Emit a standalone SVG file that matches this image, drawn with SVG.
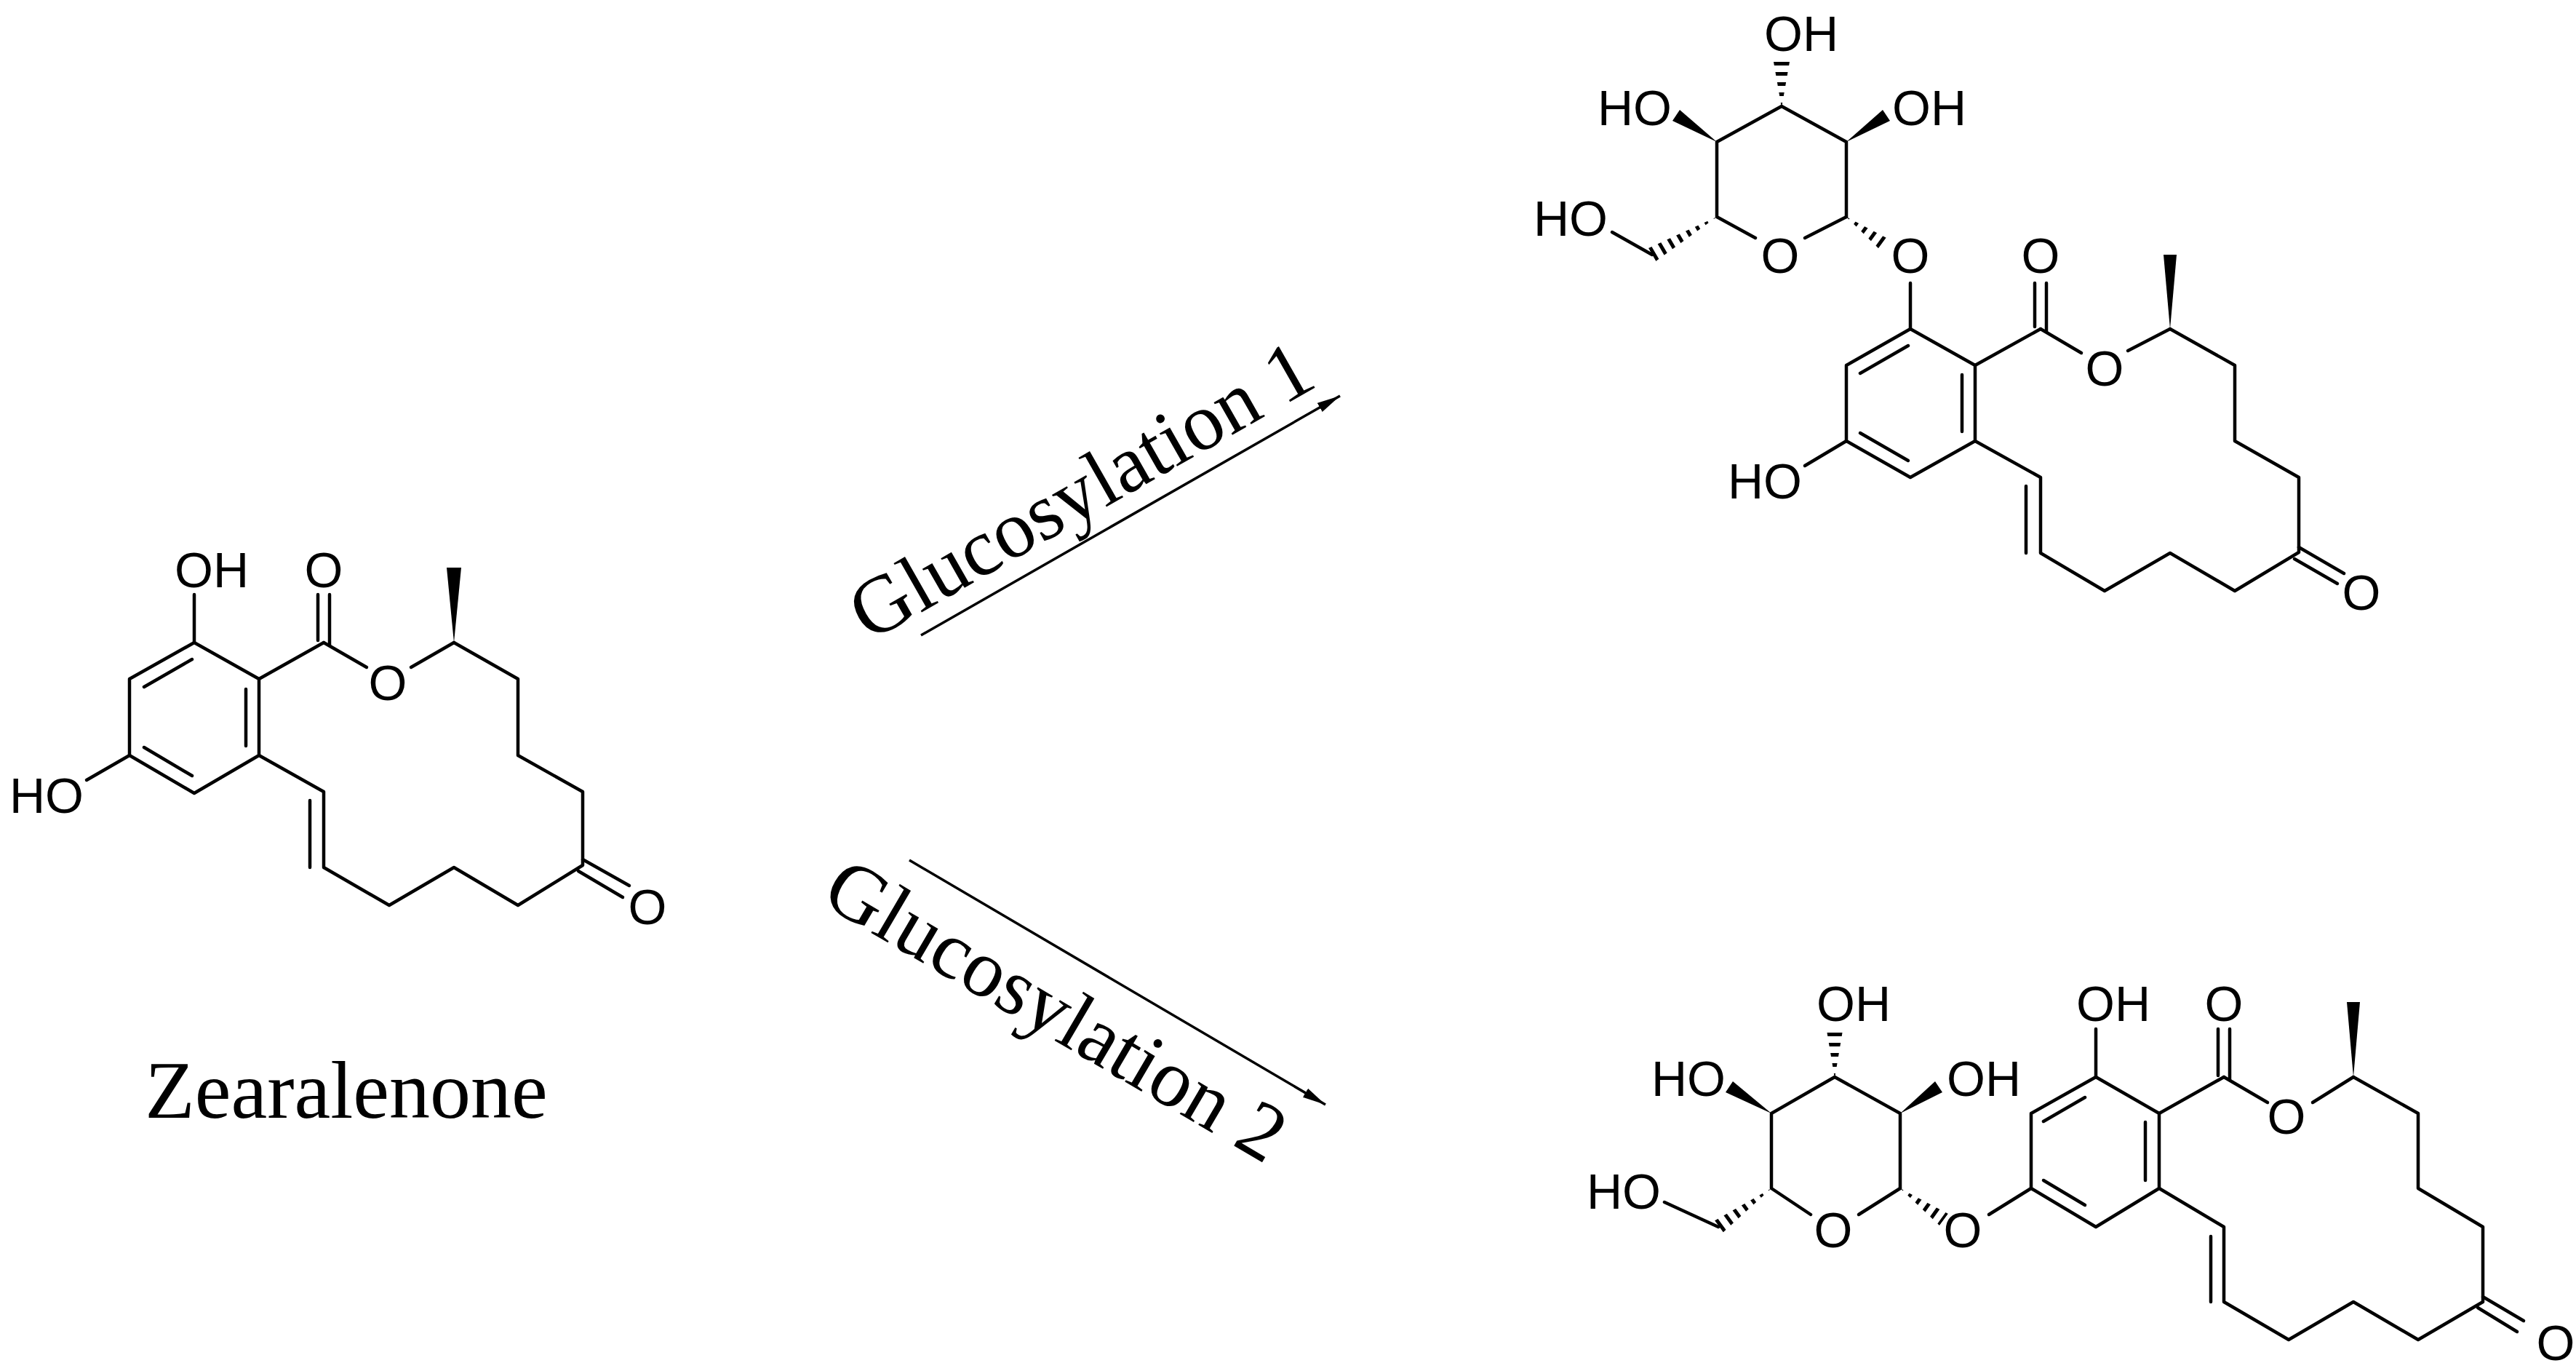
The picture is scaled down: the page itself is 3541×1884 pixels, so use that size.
<svg xmlns="http://www.w3.org/2000/svg" width="3541" height="1884" viewBox="0 0 3541 1884">
<style>
.b{stroke:#000;stroke-width:4.5;fill:none;stroke-linecap:round;stroke-linejoin:round}
.w{fill:#000;stroke:none}
.h{stroke:#000;stroke-width:24;stroke-dasharray:5 9;fill:none}
.a{font-family:"Liberation Sans",Arial,sans-serif;font-size:68px;fill:#000}
.m{text-anchor:middle}
.l{font-family:"Liberation Serif","Times New Roman",serif;font-size:112px;fill:#000;text-anchor:middle}
.ar{stroke:#000;stroke-width:3.5;fill:none}
</style>
<defs>
<marker id="ah" markerUnits="userSpaceOnUse" markerWidth="34" markerHeight="16" refX="32" refY="8" orient="auto"><path d="M0,1 L32,8 L0,15 Z" fill="#000"/></marker>
<clipPath id="h1"><polygon points="2449,148 2438,85 2460,85"/></clipPath>
<clipPath id="h2"><polygon points="2538,298 2587,346 2599,330"/></clipPath>
<clipPath id="h3"><polygon points="2360,298 2276,359 2266,341"/></clipPath>
<clipPath id="h4"><polygon points="2522,1482 2511,1416 2533,1416"/></clipPath>
<clipPath id="h5"><polygon points="2612,1633 2666,1684 2678,1668"/></clipPath>
<clipPath id="h6"><polygon points="2435,1633 2368,1694 2356,1678"/></clipPath>
</defs>
<rect width="3541" height="1884" fill="#fff"/>

<g id="zearalenone">
<line class="b" x1="267" y1="817" x2="267" y2="883"/>
<polygon class="b" points="267,883 178,933 178,1038 267,1090 356,1038 356,933"/>
<line class="b" x1="264" y1="906" x2="198" y2="944"/>
<line class="b" x1="198" y1="1027" x2="264" y2="1066"/>
<line class="b" x1="338" y1="947" x2="338" y2="1025"/>
<line class="b" x1="178" y1="1038" x2="119" y2="1072"/>
<line class="b" x1="356" y1="933" x2="445" y2="883"/>
<line class="b" x1="437" y1="817" x2="437" y2="880"/>
<line class="b" x1="453" y1="817" x2="453" y2="887"/>
<line class="b" x1="445" y1="883" x2="504" y2="917"/>
<line class="b" x1="565" y1="917" x2="624" y2="883"/>
<polygon class="w" points="624,883 614,780 634,780"/>
<polyline class="b" points="624,883 712,933 712,1038 801,1088 801,1189 712,1244 624,1192 535,1244 445,1192 445,1088 356,1038"/>
<line class="b" x1="426" y1="1100" x2="426" y2="1192"/>
<line class="b" x1="801" y1="1181" x2="865" y2="1217"/>
<line class="b" x1="795" y1="1197" x2="856" y2="1233"/>
<text class="a" x="240" y="807">OH</text>
<text class="a" x="13" y="1117">HO</text>
<text class="a m" x="445" y="807">O</text>
<text class="a m" x="533" y="962">O</text>
<text class="a m" x="890" y="1270">O</text>
</g>
<g id="label-zearalenone"><text class="l" x="476" y="1536">Zearalenone</text></g>

<g id="product1">
<polygon class="b" points="2626,452 2538,502 2538,606 2626,656 2715,606 2715,502"/>
<line class="b" x1="2623" y1="475" x2="2557" y2="513"/>
<line class="b" x1="2557" y1="595" x2="2623" y2="633"/>
<line class="b" x1="2697" y1="515" x2="2697" y2="593"/>
<line class="b" x1="2538" y1="606" x2="2481" y2="640"/>
<line class="b" x1="2626" y1="452" x2="2626" y2="389"/>
<line class="b" x1="2715" y1="502" x2="2805" y2="452"/>
<line class="b" x1="2797" y1="389" x2="2797" y2="449"/>
<line class="b" x1="2813" y1="389" x2="2813" y2="456"/>
<line class="b" x1="2805" y1="452" x2="2861" y2="485"/>
<line class="b" x1="2925" y1="482" x2="2983" y2="452"/>
<polygon class="w" points="2983,452 2974,350 2992,350"/>
<polyline class="b" points="2983,452 3072,502 3072,606 3160,656 3160,759 3072,812 2983,760 2893,812 2805,760 2805,656 2715,606"/>
<line class="b" x1="2785" y1="668" x2="2785" y2="760"/>
<line class="b" x1="3160" y1="752" x2="3222" y2="788"/>
<line class="b" x1="3154" y1="768" x2="3213" y2="802"/>
<polyline class="b" points="2538,298 2538,195 2449,146 2360,195 2360,298 2413,327"/>
<line class="b" x1="2538" y1="298" x2="2481" y2="327"/>
<polygon class="w" points="2538,195 2598,166 2588,151"/>
<polygon class="w" points="2360,195 2309,151 2299,166"/>
<line class="h" x1="2449" y1="146" x2="2449" y2="85" clip-path="url(#h1)"/>
<line class="h" x1="2538" y1="298" x2="2593" y2="338" clip-path="url(#h2)"/>
<line class="h" x1="2360" y1="298" x2="2271" y2="350" clip-path="url(#h3)"/>
<line class="b" x1="2271" y1="350" x2="2216" y2="319"/>
<text class="a" x="2375" y="685">HO</text>
<text class="a m" x="2626" y="375">O</text>
<text class="a m" x="2805" y="375">O</text>
<text class="a m" x="2893" y="530">O</text>
<text class="a m" x="3246" y="838">O</text>
<text class="a m" x="2447" y="375">O</text>
<text class="a" x="2425" y="70">OH</text>
<text class="a" x="2601" y="172">OH</text>
<text class="a" x="2196" y="172">HO</text>
<text class="a" x="2108" y="324">HO</text>
</g>

<g id="product2">
<polygon class="b" points="2881,1480 2792,1530 2792,1633 2881,1686 2968,1633 2968,1530"/>
<line class="b" x1="2809" y1="1541" x2="2866" y2="1508"/>
<line class="b" x1="2809" y1="1622" x2="2866" y2="1656"/>
<line class="b" x1="2949" y1="1542" x2="2949" y2="1622"/>
<line class="b" x1="2881" y1="1480" x2="2881" y2="1414"/>
<line class="b" x1="2792" y1="1633" x2="2734" y2="1669"/>
<line class="b" x1="2968" y1="1530" x2="3057" y2="1480"/>
<line class="b" x1="3049" y1="1414" x2="3049" y2="1478"/>
<line class="b" x1="3065" y1="1414" x2="3065" y2="1484"/>
<line class="b" x1="3057" y1="1480" x2="3117" y2="1515"/>
<line class="b" x1="3179" y1="1515" x2="3235" y2="1480"/>
<polygon class="w" points="3235,1480 3226,1377 3244,1377"/>
<polyline class="b" points="3235,1480 3324,1530 3324,1633 3413,1686 3413,1789 3324,1841 3235,1789 3146,1841 3057,1789 3057,1686 2968,1633"/>
<line class="b" x1="3039" y1="1699" x2="3039" y2="1789"/>
<line class="b" x1="3413" y1="1782" x2="3469" y2="1815"/>
<line class="b" x1="3406" y1="1797" x2="3460" y2="1830"/>
<polyline class="b" points="2612,1633 2612,1530 2522,1480 2435,1530 2435,1633 2489,1669"/>
<line class="b" x1="2612" y1="1633" x2="2555" y2="1669"/>
<polygon class="w" points="2612,1530 2670,1501 2660,1486"/>
<polygon class="w" points="2435,1530 2382,1486 2372,1501"/>
<line class="h" x1="2522" y1="1480" x2="2522" y2="1416" clip-path="url(#h4)"/>
<line class="h" x1="2612" y1="1633" x2="2672" y2="1676" clip-path="url(#h5)"/>
<line class="h" x1="2435" y1="1633" x2="2362" y2="1686" clip-path="url(#h6)"/>
<line class="b" x1="2362" y1="1686" x2="2288" y2="1652"/>
<text class="a" x="2854" y="1403">OH</text>
<text class="a m" x="2698" y="1714">O</text>
<text class="a m" x="3057" y="1403">O</text>
<text class="a m" x="3143" y="1558">O</text>
<text class="a m" x="3513" y="1869">O</text>
<text class="a m" x="2520" y="1714">O</text>
<text class="a" x="2497" y="1403">OH</text>
<text class="a" x="2676" y="1506">OH</text>
<text class="a" x="2270" y="1506">HO</text>
<text class="a" x="2181" y="1661">HO</text>
</g>

<g id="connectors">
<line class="ar" x1="1266" y1="873" x2="1842" y2="544" marker-end="url(#ah)"/>
<line class="ar" x1="1250" y1="1182" x2="1822" y2="1518" marker-end="url(#ah)"/>
</g>
<g id="label-1"><text class="l" transform="translate(1504,706) rotate(-29.7)">Glucosylation 1</text></g>
<g id="label-2"><text class="l" transform="translate(1433,1420) rotate(30.4)">Glucosylation 2</text></g>
</svg>
